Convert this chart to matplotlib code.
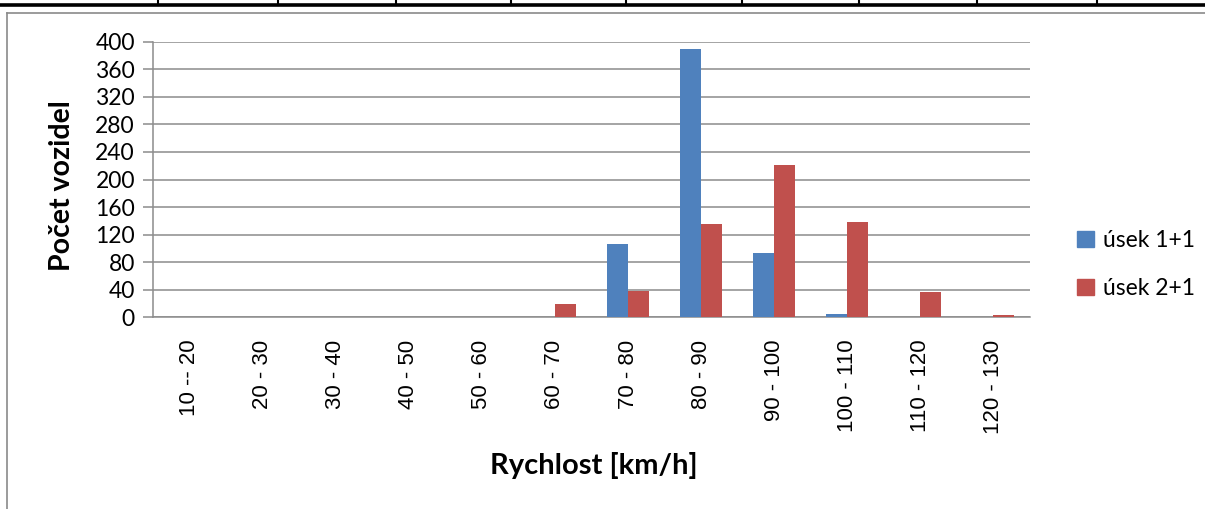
import matplotlib
matplotlib.use("Agg")
import matplotlib.pyplot as plt
from matplotlib.lines import Line2D
from matplotlib.patches import Patch
import numpy as np

# Speed classes and vehicle counts per road section
categories = ["10 -- 20", "20 - 30", "30 - 40", "40 - 50", "50 - 60", "60 - 70",
              "70 - 80", "80 - 90", "90 - 100", "100 - 110", "110 - 120", "120 - 130"]
usek_1_1 = [0, 0, 1, 0, 0, 0, 106, 390, 93, 5, 0, 0]
usek_2_1 = [0, 0, 0, 1, 1, 19, 38, 136, 221, 138, 37, 3]
series_names = ["úsek 1+1", "úsek 2+1"]
yticks = list(range(0, 401, 40))

BLUE = "#4F81BD"
RED = "#C0504D"
GRID = "#8c8c8c"

W, H = 1205, 509
fig = plt.figure(figsize=(W / 100, H / 100), dpi=100)

# page decoration: thick table rule with cell separators, chart frame
fig.add_artist(Line2D([0, 1], [1 - 4.5 / H, 1 - 4.5 / H], color="black", lw=2.6,
                      transform=fig.transFigure))
for px in [158, 278, 396, 511, 626, 742, 859, 977, 1097]:
    fig.add_artist(Line2D([px / W, px / W], [1, 1 - 5 / H], color="black", lw=1.5,
                          transform=fig.transFigure))
fig.add_artist(Line2D([7.5 / W, 1], [1 - 12.5 / H, 1 - 12.5 / H], color="#8a8a8a", lw=1.2,
                      transform=fig.transFigure))
fig.add_artist(Line2D([7.5 / W, 7.5 / W], [0, 1 - 12.5 / H], color="#8a8a8a", lw=1.2,
                      transform=fig.transFigure))

left, right = 153 / W, 1030 / W
bottom, top = 1 - 317.3 / H, 1 - 41.7 / H
ax = fig.add_axes([left, bottom, right - left, top - bottom])

x = np.arange(len(categories))
bw = 0.286
ax.bar(x - bw / 2, usek_1_1, width=bw, color=BLUE, label=series_names[0], zorder=3)
ax.bar(x + bw / 2, usek_2_1, width=bw, color=RED, label=series_names[1], zorder=3)

ax.set_xlim(-0.5, len(categories) - 0.5)
ax.set_ylim(0, 400)
ax.set_yticks(yticks)
ax.yaxis.grid(True, color=GRID, lw=1.1, zorder=0)
ax.set_axisbelow(True)

for s in ["top", "right"]:
    ax.spines[s].set_visible(False)
for s in ["left", "bottom"]:
    ax.spines[s].set_color(GRID)
    ax.spines[s].set_linewidth(1.1)

ax.tick_params(axis="y", length=7, width=1.1, color=GRID, pad=6,
               labelsize=16.5)
for lbl in ax.get_yticklabels():
    lbl.set_fontfamily("Lato")

ax.set_xticks(x)
ax.set_xticklabels(categories, rotation=90, fontsize=16, family="Liberation Sans")
ax.tick_params(axis="x", length=0, pad=16)

ax.set_ylabel("Počet vozidel", fontsize=20.5, fontweight="bold", family="Lato")
ax.yaxis.set_label_coords(-0.089, 0.476)
ax.set_xlabel("Rychlost [km/h]", fontsize=21, fontweight="bold", family="Lato")
ax.xaxis.set_label_coords(0.503, -0.489)

handles = [Patch(color=BLUE), Patch(color=RED)]
fig.legend(handles, series_names, loc="center left",
           bbox_to_anchor=(1066 / W, 1 - 264.5 / H), frameon=False,
           prop={"family": "Lato", "size": 16.5}, handlelength=0.7, handleheight=0.7,
           handletextpad=0.4, labelspacing=1.15, borderpad=0)

fig.savefig("out.png", dpi=100, facecolor="white")
